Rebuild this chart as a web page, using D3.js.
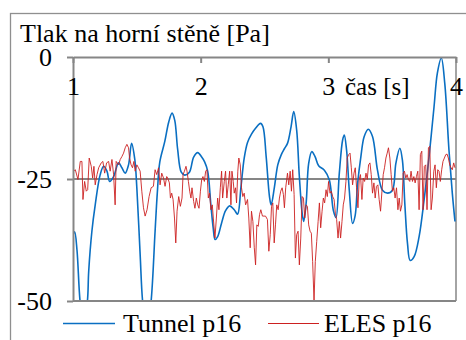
<!DOCTYPE html>
<html>
<head>
<meta charset="utf-8">
<script src="https://cdn.jsdelivr.net/npm/d3@7/dist/d3.min.js"></script>
<style>
  html, body { margin: 0; padding: 0; background: #ffffff; }
  svg { display: block; }
</style>
</head>
<body>
<svg id="chart" width="466" height="340"></svg>
<script>
// Pressure on the upper wall, probe p16: wind-tunnel measurement vs. ELES simulation
const chartTitle = "Tlak na horní stěně [Pa]";
const xTitle = "čas [s]";
const xTicks = [1, 2, 3, 4];
const yTicks = [0, -25, -50];
const seriesNames = ["Tunnel p16", "ELES p16"];

// Tunnel p16 — time [s]
const tunnelTime = [1.000, 1.013, 1.031, 1.055, 1.082, 1.113, 1.123, 1.148, 1.174, 1.213,
  1.240, 1.266, 1.287, 1.318, 1.357, 1.383, 1.409, 1.435, 1.459, 1.484,
  1.500, 1.526, 1.545, 1.578, 1.612, 1.643, 1.660, 1.680, 1.719, 1.750,
  1.776, 1.797, 1.820, 1.848, 1.875, 1.912, 1.945, 1.977, 2.008, 2.031,
  2.055, 2.080, 2.098, 2.113, 2.133, 2.164, 2.195, 2.227, 2.263, 2.289,
  2.315, 2.341, 2.367, 2.398, 2.430, 2.469, 2.488, 2.513, 2.539, 2.552,
  2.578, 2.604, 2.630, 2.656, 2.680, 2.708, 2.729, 2.752, 2.773, 2.795,
  2.807, 2.826, 2.846, 2.870, 2.896, 2.924, 2.969, 3.008, 3.039, 3.060,
  3.086, 3.112, 3.125, 3.143, 3.164, 3.190, 3.210, 3.229, 3.255, 3.281,
  3.313, 3.346, 3.385, 3.424, 3.464, 3.502, 3.529, 3.560, 3.580, 3.599,
  3.620, 3.641, 3.672, 3.711, 3.750, 3.789, 3.828, 3.854, 3.885, 3.912,
  3.945, 3.971, 3.992];
// Tunnel p16 — pressure [Pa]
const tunnelP = [-36.5, -35.8, -39.5, -50.0, -55.5, -50.0, -43.9, -35.7, -30.3, -24.1,
  -22.4, -23.4, -25.5, -24.5, -21.7, -22.7, -23.8, -22.1, -17.7, -21.0,
  -26.8, -40.5, -50.0, -57.0, -50.0, -35.7, -28.0, -21.5, -17.3, -13.3,
  -11.5, -13.0, -19.0, -23.6, -24.2, -23.6, -20.5, -19.6, -20.5, -21.5,
  -23.4, -30.3, -35.0, -37.4, -36.8, -34.0, -31.5, -30.5, -31.3, -32.2,
  -26.8, -20.7, -17.5, -15.8, -14.6, -13.6, -14.3, -20.4, -28.6, -30.3,
  -26.6, -22.1, -20.1, -18.8, -17.7, -14.3, -11.2, -15.0, -24.5, -32.0,
  -33.7, -30.0, -21.8, -19.4, -20.4, -22.3, -23.2, -25.2, -31.4, -32.9,
  -23.8, -17.0, -16.0, -19.1, -27.3, -34.1, -32.5, -26.0, -20.4, -16.3,
  -14.8, -16.3, -23.2, -27.3, -27.9, -27.3, -21.8, -18.7, -21.1, -30.0,
  -38.2, -41.7, -40.9, -36.8, -29.3, -20.4, -10.2, -3.3, -0.2, -5.4,
  -19.1, -27.9, -33.7];

// ELES p16 — time [s]
const elesTime = [1.000, 1.005, 1.018, 1.039, 1.057, 1.070, 1.078, 1.091, 1.104, 1.115,
  1.127, 1.143, 1.154, 1.164, 1.174, 1.188, 1.201, 1.221, 1.234, 1.248,
  1.263, 1.279, 1.291, 1.305, 1.318, 1.330, 1.338, 1.357, 1.370, 1.383,
  1.396, 1.409, 1.422, 1.435, 1.443, 1.455, 1.466, 1.477, 1.487, 1.500,
  1.513, 1.526, 1.539, 1.552, 1.565, 1.580, 1.596, 1.612, 1.630, 1.643,
  1.656, 1.670, 1.682, 1.695, 1.709, 1.721, 1.734, 1.742, 1.755, 1.763,
  1.773, 1.784, 1.795, 1.805, 1.815, 1.828, 1.841, 1.854, 1.862, 1.873,
  1.885, 1.893, 1.904, 1.914, 1.924, 1.932, 1.945, 1.955, 1.966, 1.977,
  1.987, 1.998, 2.008, 2.018, 2.029, 2.039, 2.049, 2.060, 2.070, 2.080,
  2.091, 2.099, 2.112, 2.123, 2.133, 2.143, 2.154, 2.164, 2.172, 2.185,
  2.195, 2.205, 2.216, 2.227, 2.237, 2.245, 2.255, 2.263, 2.273, 2.281,
  2.291, 2.299, 2.310, 2.320, 2.330, 2.341, 2.352, 2.367, 2.377, 2.388,
  2.398, 2.409, 2.420, 2.430, 2.440, 2.451, 2.461, 2.471, 2.484, 2.508,
  2.523, 2.534, 2.545, 2.555, 2.565, 2.576, 2.586, 2.596, 2.607, 2.617,
  2.627, 2.638, 2.648, 2.656, 2.666, 2.680, 2.690, 2.701, 2.711, 2.721,
  2.732, 2.742, 2.752, 2.763, 2.773, 2.784, 2.795, 2.805, 2.815, 2.826,
  2.836, 2.846, 2.857, 2.867, 2.877, 2.888, 2.898, 2.909, 2.920, 2.930,
  2.940, 2.951, 2.961, 2.971, 2.982, 2.992, 3.002, 3.013, 3.023, 3.034,
  3.045, 3.055, 3.065, 3.076, 3.086, 3.096, 3.107, 3.117, 3.127, 3.138,
  3.148, 3.159, 3.170, 3.180, 3.190, 3.201, 3.211, 3.221, 3.232, 3.242,
  3.252, 3.263, 3.273, 3.284, 3.295, 3.305, 3.315, 3.326, 3.336, 3.346,
  3.357, 3.367, 3.377, 3.388, 3.398, 3.409, 3.420, 3.430, 3.440, 3.451,
  3.461, 3.471, 3.482, 3.492, 3.502, 3.513, 3.523, 3.534, 3.545, 3.555,
  3.565, 3.576, 3.586, 3.596, 3.607, 3.617, 3.627, 3.638, 3.648, 3.659,
  3.670, 3.680, 3.690, 3.701, 3.711, 3.721, 3.732, 3.742, 3.752, 3.763,
  3.773, 3.784, 3.795, 3.805, 3.815, 3.826, 3.836, 3.846, 3.857, 3.867,
  3.877, 3.888, 3.898, 3.909, 3.920, 3.930, 3.940, 3.951, 3.961, 3.971,
  3.982, 3.992];
// ELES p16 — pressure [Pa]
const elesP = [-24.0, -23.4, -23.1, -25.1, -21.4, -21.4, -29.2, -25.5, -27.5, -27.2,
  -20.7, -22.4, -24.8, -22.4, -26.2, -24.1, -22.7, -21.7, -21.4, -23.8,
  -21.7, -21.4, -23.4, -21.0, -24.1, -30.3, -21.4, -22.1, -21.0, -20.4,
  -19.7, -18.6, -17.9, -18.6, -20.7, -22.1, -22.7, -21.4, -23.4, -22.1,
  -22.7, -23.4, -27.5, -30.9, -32.6, -31.3, -28.6, -26.8, -26.5, -23.1,
  -24.1, -22.7, -26.2, -23.8, -24.8, -26.5, -24.5, -24.8, -25.8, -28.9,
  -27.9, -29.2, -33.0, -38.1, -31.6, -28.6, -30.6, -28.9, -24.1, -23.4,
  -22.4, -23.4, -25.5, -27.5, -28.9, -26.8, -29.6, -31.0, -28.9, -30.3,
  -31.0, -27.5, -25.1, -24.5, -25.5, -23.4, -23.1, -28.9, -27.9, -31.3,
  -30.3, -33.0, -37.1, -33.0, -28.9, -31.3, -26.8, -23.4, -28.9, -25.5,
  -23.4, -28.9, -26.2, -23.4, -30.3, -23.4, -25.5, -27.9, -26.8, -29.9,
  -23.4, -20.7, -22.1, -26.8, -28.6, -27.9, -30.3, -29.2, -33.0, -39.1,
  -31.6, -33.7, -39.1, -42.6, -34.4, -34.7, -32.3, -31.3, -32.6, -32.6,
  -33.3, -39.8, -36.4, -30.6, -29.9, -38.1, -34.4, -30.3, -31.3, -28.9,
  -27.5, -26.8, -28.2, -30.9, -26.8, -23.8, -26.2, -23.4, -27.5, -23.1,
  -28.2, -41.2, -36.4, -35.7, -42.6, -37.1, -28.6, -28.9, -33.0, -30.3,
  -30.6, -34.4, -35.7, -36.1, -41.9, -50.0, -41.9, -37.8, -33.7, -29.9,
  -35.0, -31.6, -28.9, -29.9, -27.2, -28.6, -25.5, -27.9, -27.5, -28.6,
  -29.2, -32.0, -33.3, -37.1, -33.7, -37.1, -33.7, -30.3, -28.9, -25.5,
  -20.7, -20.0, -19.7, -22.7, -26.2, -23.8, -22.7, -26.8, -30.9, -25.0,
  -24.1, -29.2, -24.8, -25.5, -23.8, -25.1, -22.1, -21.7, -24.1, -27.9,
  -25.8, -28.9, -26.5, -26.2, -29.2, -31.6, -27.5, -24.1, -22.7, -20.7,
  -19.7, -18.6, -20.7, -24.1, -27.5, -26.8, -28.9, -26.8, -31.3, -28.9,
  -31.6, -30.3, -23.8, -23.4, -24.8, -24.1, -25.1, -25.5, -23.4, -25.5,
  -24.5, -25.8, -24.5, -23.4, -31.3, -20.0, -19.3, -31.3, -22.4, -22.1,
  -31.3, -18.6, -18.3, -31.3, -28.9, -23.4, -22.1, -26.8, -23.1, -23.4,
  -25.5, -23.1, -21.4, -20.7, -20.0, -19.9, -20.7, -22.1, -22.7, -23.1,
  -21.7, -22.7];

const colors = ["#0a6fc2", "#cc2020"];
const axisGray = "#868686";
const serifFont = '"Liberation Serif", "Times New Roman", serif';

const svg = d3.select("#chart");
const plot = { left: 73, right: 456, top: 57, bottom: 301 };

const x = d3.scaleLinear().domain([1, 4]).range([plot.left, plot.right]);
const y = d3.scaleLinear().domain([-50, 0]).range([plot.bottom, plot.top]);

function styleText(sel, size) {
  return sel.style("font-family", serifFont)
    .style("font-size", size + "px")
    .attr("fill", "#000");
}

// outer chart frame
svg.append("rect")
  .attr("x", 10.5).attr("y", 13.5)
  .attr("width", 520).attr("height", 400)
  .attr("fill", "none")
  .attr("stroke", "#8f8f8f")
  .attr("stroke-width", 1.3);

// title
styleText(svg.append("text")
  .attr("x", 20).attr("y", 42)
  .text(chartTitle), 26);

// horizontal gridline at -25 and right edge of the plot
svg.append("line")
  .attr("x1", plot.left).attr("x2", plot.right)
  .attr("y1", y(-25)).attr("y2", y(-25))
  .attr("stroke", axisGray).attr("stroke-width", 2);
svg.append("line")
  .attr("x1", plot.right).attr("x2", plot.right)
  .attr("y1", plot.top).attr("y2", plot.bottom)
  .attr("stroke", axisGray).attr("stroke-width", 1.5);

// clip for the series
svg.append("clipPath").attr("id", "plotClip")
  .append("rect")
  .attr("x", plot.left).attr("y", plot.top - 1)
  .attr("width", plot.right - plot.left)
  .attr("height", plot.bottom - plot.top + 1);

const tunnelData = tunnelTime.map((t, i) => [t, tunnelP[i]]);
const elesData = elesTime.map((t, i) => [t, elesP[i]]);

const smoothLine = d3.line()
  .x(d => x(d[0])).y(d => y(d[1]))
  .curve(d3.curveCatmullRom.alpha(0.5));
const rawLine = d3.line()
  .x(d => x(d[0])).y(d => y(d[1]));

const series = svg.append("g").attr("clip-path", "url(#plotClip)");
series.append("path")
  .datum(tunnelData)
  .attr("d", smoothLine)
  .attr("fill", "none")
  .attr("stroke", colors[0])
  .attr("stroke-width", 1.6)
  .attr("stroke-linejoin", "round");
series.append("path")
  .datum(elesData)
  .attr("d", rawLine)
  .attr("fill", "none")
  .attr("stroke", colors[1])
  .attr("stroke-width", 0.9)
  .attr("stroke-linejoin", "round");

// y axis (left)
const yAxis = svg.append("g")
  .attr("transform", `translate(${plot.left},0)`)
  .call(d3.axisLeft(y).tickValues(yTicks).tickSize(6).tickSizeOuter(0)
    .tickPadding(15).tickFormat(d => String(d)));
// bottom gridline at -50 spans the plot
yAxis.append("line")
  .attr("x1", 0).attr("x2", plot.right - plot.left)
  .attr("y1", y(-50)).attr("y2", y(-50))
  .attr("stroke", axisGray).attr("stroke-width", 2);

// x axis runs along the zero line at the top, ticks pointing into the plot
const xAxis = svg.append("g")
  .attr("transform", `translate(0,${y(0)})`)
  .call(d3.axisBottom(x).tickValues(xTicks).tickSize(6).tickSizeOuter(0)
    .tickFormat(d3.format("d")));

[yAxis, xAxis].forEach(g => {
  g.select(".domain").attr("stroke", axisGray).attr("stroke-width", 2);
  g.selectAll(".tick line").attr("stroke", axisGray).attr("stroke-width", 2);
  styleText(g.selectAll(".tick text"), 26);
});
yAxis.selectAll(".tick text").attr("dy", 0).attr("y", 8.5);
xAxis.selectAll(".tick text").attr("dy", 0).attr("y", 37.5);

styleText(svg.append("text")
  .attr("x", 345).attr("y", y(0) + 37.5)
  .text(xTitle), 25);

// legend
const legendItems = [
  { x1: 63, x2: 115, tx: 123 },
  { x1: 268, x2: 319, tx: 324 }
];
const legend = svg.append("g");
legendItems.forEach((item, i) => {
  legend.append("line")
    .attr("x1", item.x1).attr("x2", item.x2)
    .attr("y1", 323.5).attr("y2", 323.5)
    .attr("stroke", colors[i])
    .attr("stroke-width", i === 0 ? 1.6 : 1);
  styleText(legend.append("text")
    .attr("x", item.tx).attr("y", 331.5)
    .text(seriesNames[i]), 26);
});
</script>
</body>
</html>
